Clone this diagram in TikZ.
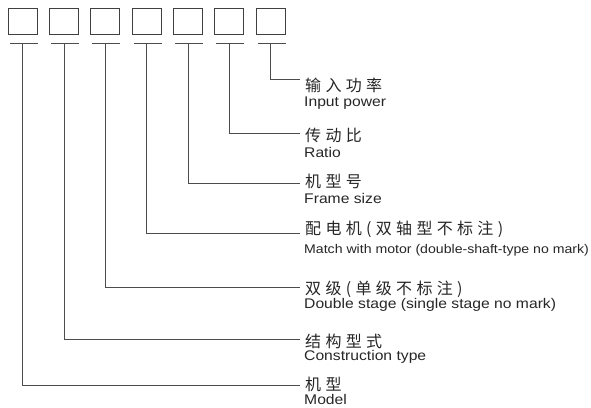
\documentclass[tikz,border=0pt]{standalone}
\usepackage{fontspec}
\setmainfont{Liberation Sans}[FakeStretch=1.12]
\newfontfamily\cjk{Noto Sans CJK SC}[LetterSpace=27]
\usetikzlibrary{positioning}

\tikzset{
  codebox/.style={draw=black!75, line width=0.9pt, minimum width=29pt, minimum height=26pt, inner sep=0pt},
  lead/.style={draw=black!70, line width=0.9pt},
  zhlabel/.style={anchor=base west, inner sep=0pt, font=\cjk\fontsize{16}{16}\selectfont, text=black!85},
  enlabel/.style={anchor=base west, inner sep=0pt, text=black!85},
}

\begin{document}
\begin{tikzpicture}[x=1pt, y=-1pt]
    \useasboundingbox (0,0) rectangle (591,407);

    % ---------- code boxes and their bars ----------
    \foreach \i in {1,...,7}{
        \node[codebox] (b\i) at ({22.8+41.3*(\i-1)}, 21) {};
        \coordinate (t\i) at ({22.8+41.3*(\i-1)}, 43.5);
        \draw[lead] ([xshift=2pt]b\i.west |- t\i) -- (b\i.east |- t\i);
    }

    % ---------- leaders and labels ----------
    \foreach \i/\ly/\zy/\ey/\es/\zh/\en in {
        7/79/91/106/14/{输入功率}/{Input power},
        6/133/141/157/14/{传动比}/{Ratio},
        5/183/187/203/14/{机型号}/{Frame size},
        4/233/234/253/12.6/{配电机(双轴型不标注)}/{Match with motor (double-shaft-type no mark)},
        3/287/294/308/14/{双级(单级不标注)}/{Double stage (single stage no mark)},
        2/339/347/360/14/{结构型式}/{Construction type},
        1/385/390.5/404/14/{机型}/{Model}
    }{
        \coordinate (e\i) at (300,\ly);
        \node[zhlabel] (zh\i) at (305,\zy) {\zh};
        \node[enlabel, font=\fontsize{\es}{\es}\selectfont] (en\i) at (304,\ey) {\en};
        \draw[lead] (t\i) |- (e\i);
    }

\end{tikzpicture}
\end{document}
